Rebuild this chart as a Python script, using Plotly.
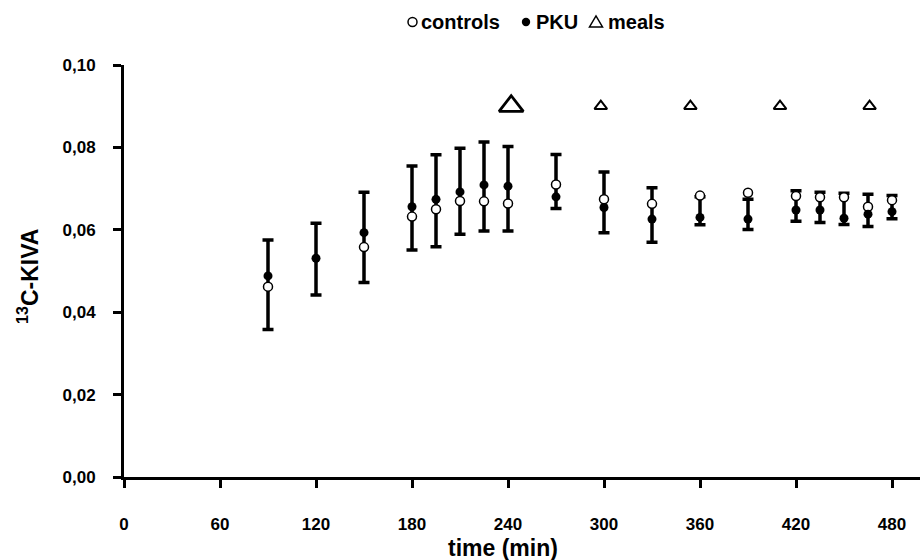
import plotly.graph_objects as go

# ---- data ----
times = [90, 120, 150, 180, 195, 210, 225, 240, 270, 300, 330, 360, 390, 420, 435, 450, 465, 480]
pku = [0.0488, 0.0531, 0.0593, 0.0656, 0.0674, 0.0692, 0.0709, 0.0706, 0.0680, 0.0654,
       0.0626, 0.0630, 0.0626, 0.0648, 0.0648, 0.0628, 0.0638, 0.0644]
controls = [0.0462, None, 0.0558, 0.0632, 0.0650, 0.0670, 0.0669, 0.0664, 0.0710, 0.0674,
            0.0663, 0.0683, 0.0690, 0.0682, 0.0679, 0.0679, 0.0656, 0.0672]
err_top = [0.0575, 0.0616, 0.0691, 0.0755, 0.0782, 0.0798, 0.0813, 0.0802, 0.0783, 0.0740,
           0.0702, 0.0680, 0.0674, 0.0695, 0.0691, 0.0689, 0.0686, 0.0683]
err_bottom = [0.0358, 0.0442, 0.0472, 0.0551, 0.0559, 0.0589, 0.0597, 0.0597, 0.0652, 0.0593,
              0.0570, 0.0612, 0.0601, 0.0621, 0.0618, 0.0613, 0.0608, 0.0627]
meal_times = [242, 298, 354, 410, 466]
meal_level = [0.09, 0.09, 0.09, 0.09, 0.09]

x_ticks = [0, 60, 120, 180, 240, 300, 360, 420, 480]
y_ticks = [0.00, 0.02, 0.04, 0.06, 0.08, 0.10]

FONT = "Liberation Sans, Arial, Helvetica, sans-serif"

fig = go.Figure()

# error bars (bar spans from lower cap to upper cap)
fig.add_trace(go.Scatter(
    x=times, y=err_bottom, mode="markers",
    marker=dict(size=1, opacity=0),
    error_y=dict(type="data", symmetric=False,
                 array=[t - b for t, b in zip(err_top, err_bottom)],
                 arrayminus=[0] * len(times),
                 color="black", thickness=3.5, width=5.5),
    hoverinfo="skip", showlegend=False))

fig.add_trace(go.Scatter(
    x=times, y=controls, mode="markers", name="controls",
    marker=dict(symbol="circle", size=9, color="white",
                line=dict(color="black", width=1.5)),
    showlegend=False))

fig.add_trace(go.Scatter(
    x=times, y=pku, mode="markers", name="PKU",
    marker=dict(symbol="circle", size=9, color="black",
                line=dict(color="black", width=0)),
    showlegend=False))

# meals: the first (large) and the following (small) markers
fig.add_trace(go.Scatter(
    x=meal_times[:1], y=meal_level[:1], mode="markers", name="meals",
    marker=dict(symbol="triangle-up", size=21, color="white", opacity=1,
                line=dict(color="#000000", width=2.8)),
    showlegend=False))
fig.add_trace(go.Scatter(
    x=meal_times[1:], y=meal_level[1:], mode="markers", name="meals",
    marker=dict(symbol="triangle-up", size=11, color="white", opacity=1,
                line=dict(color="#000000", width=2.0)),
    showlegend=False))

# ---- legend built from text + shapes ----
ly = 1.1044
def px2paper_x(px):
    return (px - 124) / 796

legend_items = [
    ("controls", 412.5, 419, "open"),
    ("PKU", 526, 534, "filled"),
    ("meals", 596, 606, "tri"),
]
for label, sym_px, text_px, kind in legend_items:
    fig.add_annotation(x=px2paper_x(text_px), y=ly, xref="paper", yref="paper",
                       text="<b>" + label + "</b>", showarrow=False,
                       xanchor="left", yanchor="middle",
                       font=dict(family=FONT, size=20, color="black"))
    sx = px2paper_x(sym_px)
    if kind == "open":
        fig.add_shape(type="circle", xref="paper", yref="paper",
                      xsizemode="pixel", ysizemode="pixel", xanchor=sx, yanchor=ly,
                      x0=-4.5, x1=4.5, y0=-4.5, y1=4.5,
                      line=dict(color="black", width=1.5), fillcolor="white")
    elif kind == "filled":
        fig.add_shape(type="circle", xref="paper", yref="paper",
                      xsizemode="pixel", ysizemode="pixel", xanchor=sx, yanchor=ly,
                      x0=-4.2, x1=4.2, y0=-4.2, y1=4.2,
                      line=dict(color="black", width=0), fillcolor="black")
    else:
        fig.add_shape(type="path", xref="paper", yref="paper",
                      xsizemode="pixel", ysizemode="pixel", xanchor=sx, yanchor=ly,
                      path="M -6.5 -5 L 6.5 -5 L 0 6 Z",
                      line=dict(color="black", width=1.5), fillcolor="white")

# axis titles
fig.add_annotation(x=px2paper_x(503), y=(477 - 548) / 412, xref="paper", yref="paper",
                   text="<b>time (min)</b>", showarrow=False,
                   xanchor="center", yanchor="middle",
                   font=dict(family=FONT, size=23, color="black"))
fig.add_annotation(x=px2paper_x(28), y=(477 - 277) / 412, xref="paper", yref="paper",
                   text="<b><sup>13</sup>C-KIVA</b>", showarrow=False, textangle=-90,
                   xanchor="center", yanchor="middle",
                   font=dict(family=FONT, size=23, color="black"))

fig.update_layout(
    width=920, height=560,
    margin=dict(l=124, r=0, t=65, b=83),
    paper_bgcolor="white", plot_bgcolor="white",
    showlegend=False,
    font=dict(family=FONT, color="black"),
    xaxis=dict(range=[0, 497.5], tickmode="array", tickvals=x_ticks,
               ticktext=["<b>%d</b>" % v for v in x_ticks],
               showline=True, linecolor="black", linewidth=3,
               ticks="outside", ticklen=8, tickwidth=2.5, tickcolor="black",
               ticklabelstandoff=22,
               showgrid=False, zeroline=False,
               tickfont=dict(family=FONT, size=17, color="black")),
    yaxis=dict(range=[0, 0.10], tickmode="array", tickvals=y_ticks,
               ticktext=["<b>" + ("%.2f" % v).replace(".", ",") + "</b>" for v in y_ticks],
               showline=True, linecolor="black", linewidth=3,
               ticks="outside", ticklen=8, tickwidth=2.5, tickcolor="black",
               ticklabelstandoff=14,
               showgrid=False, zeroline=False,
               tickfont=dict(family=FONT, size=17, color="black")),
)

fig.write_html("out.html")
